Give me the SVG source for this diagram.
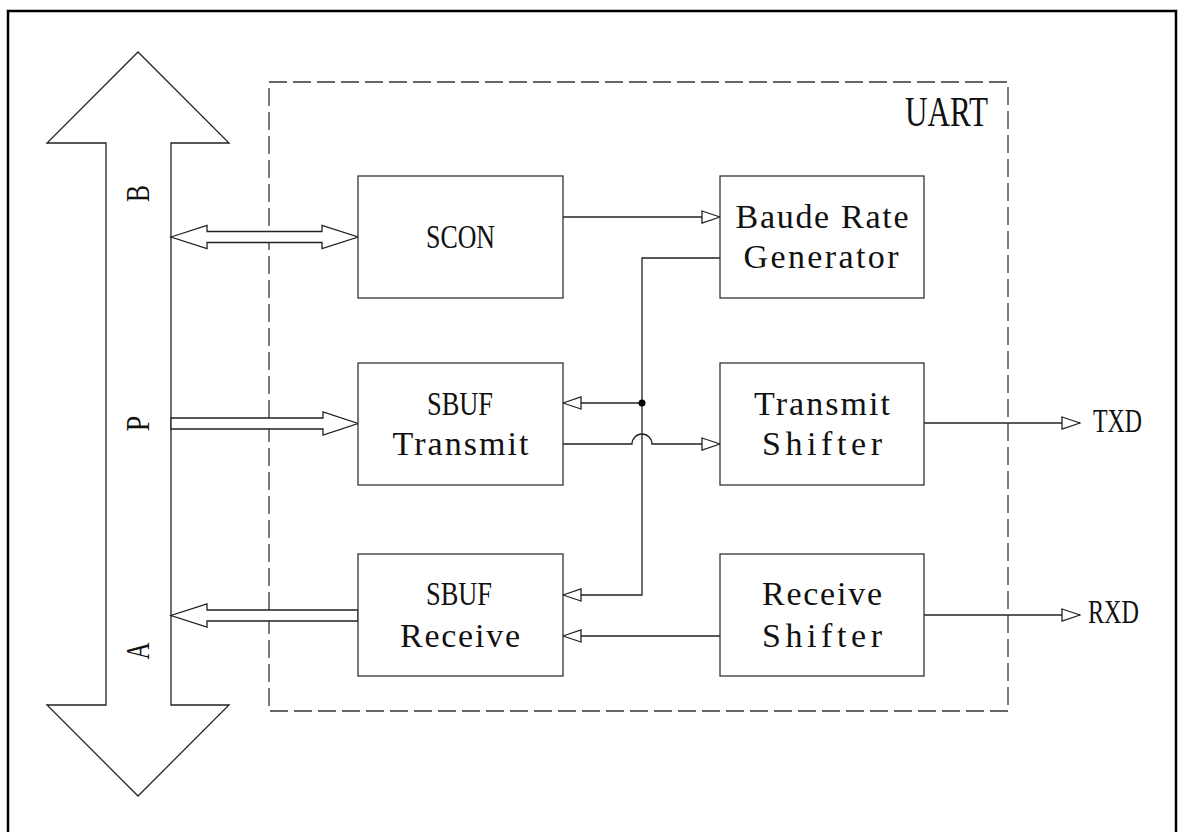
<svg xmlns="http://www.w3.org/2000/svg" width="1184" height="832" viewBox="0 0 1184 832">
<style>
.box{fill:#fff;stroke:#333;stroke-width:1.3}
.ln{fill:none;stroke:#222;stroke-width:1.3}
.hollow{fill:#fff;stroke:#222;stroke-width:1.3;stroke-linejoin:miter}
.t{font-family:"Liberation Serif","Times New Roman",serif;font-size:34px;fill:#111;text-anchor:middle}
</style>
<defs>
<marker id="tri" viewBox="0 0 20 14" refX="19" refY="7" markerWidth="20" markerHeight="14" markerUnits="userSpaceOnUse" orient="auto">
<path d="M1,1 L19,7 L1,13 Z" fill="#fff" stroke="#222" stroke-width="1.3"/>
</marker>
</defs>
<rect width="1184" height="832" fill="#fff"/>
<path d="M8,840 V11 H1176 V840" fill="none" stroke="#000" stroke-width="2.5"/>
<rect x="269" y="82" width="739" height="629" fill="none" stroke="#333" stroke-width="1.3" stroke-dasharray="18,6"/>
<g id="bus">
<path class="hollow" d="M106,705 V143 H47 L138,52 L229,143 H171 V705 H229 L138,796 L47,705 Z"/>
<text class="t" transform="translate(149,193.5) rotate(-90)" textLength="17" lengthAdjust="spacingAndGlyphs">B</text>
<text class="t" transform="translate(149,423.5) rotate(-90)" textLength="16" lengthAdjust="spacingAndGlyphs">P</text>
<text class="t" transform="translate(149,651) rotate(-90)" textLength="17" lengthAdjust="spacingAndGlyphs">A</text>
</g>
<g id="uart-label"><text class="t" x="946.5" y="126" style="font-size:41.5px" textLength="83" lengthAdjust="spacingAndGlyphs">UART</text></g>
<g id="connectors">
<polygon class="hollow" points="171,237 207,225.5 207,231.5 322,231.5 322,225.5 358,237 322,248.5 322,242.5 207,242.5 207,248.5"/>
<polygon class="hollow" points="171,418 323,418 323,412 358,423.5 323,435 323,429 171,429"/>
<polygon class="hollow" points="358,610 207,610 207,604 171,615.5 207,627 207,621 358,621"/>
<path class="ln" d="M563,217 H720" marker-end="url(#tri)"/>
<path class="ln" d="M720,258 H642 V595 H563" marker-end="url(#tri)"/>
<path class="ln" d="M642,403 H563" marker-end="url(#tri)"/>
<circle cx="642" cy="403" r="3.5" fill="#000"/>
<path class="ln" d="M563,444 H632 A10,10 0 0 1 652,444 H720" marker-end="url(#tri)"/>
<path class="ln" d="M924,423 H1080" marker-end="url(#tri)"/>
<path class="ln" d="M924,615 H1080" marker-end="url(#tri)"/>
<path class="ln" d="M720,636 H563" marker-end="url(#tri)"/>
</g>
<g id="scon"><rect class="box" x="358" y="176" width="205" height="122"/><text class="t" x="460.5" y="248" textLength="69" lengthAdjust="spacingAndGlyphs">SCON</text></g>
<g id="baud"><rect class="box" x="720" y="176" width="204" height="122"/><text class="t" x="822" y="228" textLength="173" lengthAdjust="spacing">Baude Rate</text><text class="t" x="821" y="268" textLength="155" lengthAdjust="spacing">Generator</text></g>
<g id="sbuf-tx"><rect class="box" x="358" y="363" width="205" height="122"/><text class="t" x="460" y="414.5" textLength="66" lengthAdjust="spacingAndGlyphs">SBUF</text><text class="t" x="460.5" y="455" textLength="136" lengthAdjust="spacing">Transmit</text></g>
<g id="tx-shifter"><rect class="box" x="720" y="363" width="204" height="122"/><text class="t" x="822" y="414.5" textLength="136" lengthAdjust="spacing">Transmit</text><text class="t" x="822" y="455" textLength="120" lengthAdjust="spacing">Shifter</text></g>
<g id="sbuf-rx"><rect class="box" x="358" y="554" width="205" height="122"/><text class="t" x="459" y="605" textLength="66" lengthAdjust="spacingAndGlyphs">SBUF</text><text class="t" x="460" y="647" textLength="120" lengthAdjust="spacing">Receive</text></g>
<g id="rx-shifter"><rect class="box" x="720" y="554" width="204" height="122"/><text class="t" x="822" y="605" textLength="120" lengthAdjust="spacing">Receive</text><text class="t" x="822" y="647" textLength="120" lengthAdjust="spacing">Shifter</text></g>
<g id="txd"><text class="t" x="1117.5" y="432" textLength="49" lengthAdjust="spacingAndGlyphs">TXD</text></g>
<g id="rxd"><text class="t" x="1113.5" y="623" textLength="51" lengthAdjust="spacingAndGlyphs">RXD</text></g>
</svg>
